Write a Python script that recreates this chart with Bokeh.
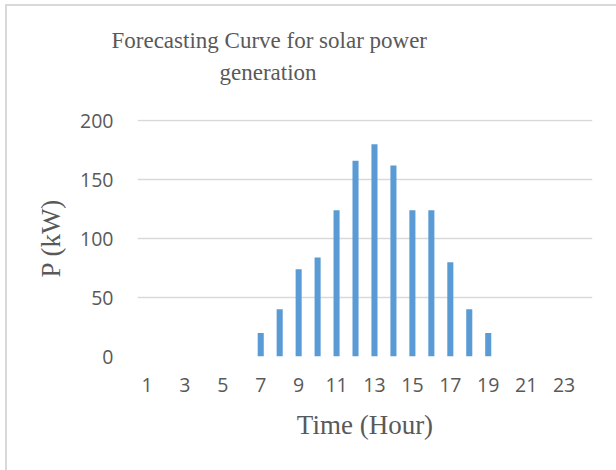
from bokeh.plotting import figure
from bokeh.models import Range1d, FixedTicker, Title
from bokeh.embed import file_html
from bokeh.resources import INLINE

hours = list(range(1, 25))
power = [0, 0, 0, 0, 0, 0, 20, 40, 74, 84, 124, 166, 180, 162, 124, 124, 80, 40, 20, 0, 0, 0, 0, 0]
x_ticks = [1, 3, 5, 7, 9, 11, 13, 15, 17, 19, 21, 23]
y_ticks = [0, 50, 100, 150, 200]
title_lines = ["Forecasting Curve for solar power", "generation"]

GRAY = "#595959"
GRID = "#d9d9d9"
SERIF = "Liberation Serif"
SANS = "Open Sans"

p = figure(width=615, height=470, output_backend="svg", toolbar_location=None,
           x_range=Range1d(0.5, 24.5), y_range=Range1d(0, 201),
           min_border_left=130, min_border_right=30, min_border_top=113, min_border_bottom=120)
p.margin = (4, 0, 0, 5)
p.styles = {"border-top": "2px solid #d9d9d9", "border-left": "2px solid #d9d9d9"}
p.outline_line_color = None
p.background_fill_color = "white"
p.border_fill_color = "white"

p.vbar(x=hours, top=power, width=0.32, fill_color="#5b9bd5", line_color=None)

p.xgrid.visible = False
p.ygrid.ticker = FixedTicker(ticks=y_ticks)
p.ygrid.grid_line_color = GRID
p.ygrid.grid_line_width = 1.5

for ax in (p.xaxis[0], p.yaxis[0]):
    ax.axis_line_color = None
    ax.major_tick_line_color = None
    ax.minor_tick_line_color = None
    ax.major_tick_out = 0
    ax.major_tick_in = 0
    ax.major_label_text_font = SANS
    ax.major_label_text_font_size = "19.5px"
    ax.major_label_text_color = GRAY
    ax.axis_label_text_font = SERIF
    ax.axis_label_text_font_size = "27px"
    ax.axis_label_text_color = GRAY
    ax.axis_label_text_font_style = "normal"

p.xaxis.ticker = FixedTicker(ticks=x_ticks)
p.yaxis.ticker = FixedTicker(ticks=y_ticks)
p.xaxis.axis_label = "Time (Hour)"
p.yaxis.axis_label = "P (kW)"
p.yaxis.major_label_standoff = 24
p.xaxis.major_label_standoff = 21
p.yaxis.axis_label_standoff = 11
p.xaxis.axis_label_standoff = 15

# spacer between the plotting area and the two-line title
p.add_layout(Title(text=" ", standoff=32, text_font_size="1px"), "above")
# two-line title: later-added titles stack further from the frame
title_offsets = [-26, 82]
title_standoffs = [9, 0]
for line, off, so in reversed(list(zip(title_lines, title_offsets, title_standoffs))):
    p.add_layout(Title(text=line, align="left", offset=off, standoff=so,
                       text_font=SERIF, text_font_size="23px", text_color=GRAY,
                       text_font_style="normal"), "above")

html = file_html(p, INLINE)
html = html.replace("<body>", '<body style="margin:0;overflow:hidden">', 1)
open("out.html", "w").write(html)
